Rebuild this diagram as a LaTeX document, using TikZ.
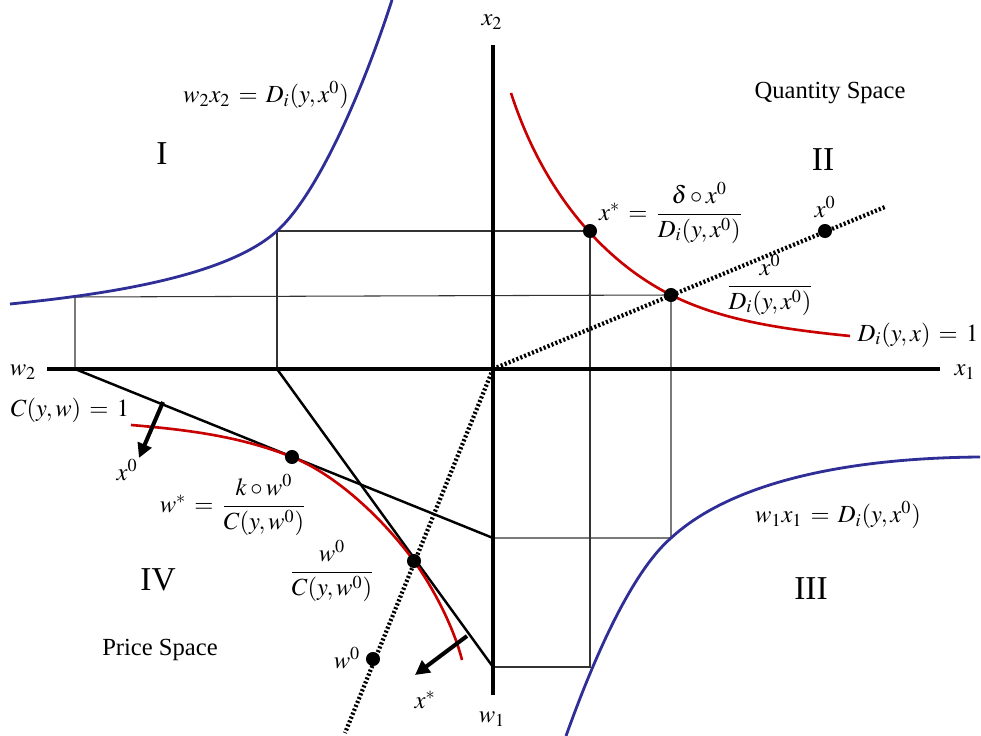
\documentclass[tikz,border=0pt]{standalone}
\usepackage{amsmath}
\usepackage{mathptmx}
\usepackage{fontspec}
\setmainfont{Liberation Serif}
\usetikzlibrary{arrows.meta}
\definecolor{isoblue}{RGB}{46,46,150}
\definecolor{isored}{RGB}{200,0,0}
\tikzset{
  axs/.style={line width=1.8pt},
  grd/.style={line width=0.6pt, black!80},
  tng/.style={line width=1.4pt},
  dual/.style={line width=1.6pt, isoblue},
  iso/.style={line width=1.5pt, isored},
  ray/.style={line width=2.4pt, dash pattern=on 1.2pt off 1.2pt},
  nrm/.style={-{Triangle[length=2.9mm,width=2.9mm]}, line width=2.3pt},
  lbl/.style={font=\fontsize{14}{16}\selectfont, inner sep=1pt},
  quad/.style={font=\fontsize{19}{21}\selectfont, inner sep=1pt},
}

\begin{document}
\begin{tikzpicture}[x=0.02cm,y=-0.02cm]
  \useasboundingbox (0,0) rectangle (981,736);
  % key points
  \coordinate (O) at (493,369);
  \coordinate (xs) at (590,231);
  \coordinate (xr) at (671,295);
  \coordinate (x0) at (825,231);
  \coordinate (ws) at (292,457);
  \coordinate (wr) at (414,561);
  \coordinate (w0) at (373,659);
  \coordinate (A2) at (75,369);
  \coordinate (B2) at (277,369);
  \coordinate (A1) at (493,538);
  \coordinate (B1) at (493,667);
  \coordinate (Ahi) at (75,297);
  \coordinate (Bhi) at (277,231);
  \coordinate (Alo) at (671,538);
  \coordinate (Blo) at (590,667);
  \coordinate (rayII) at (885,207);
  \coordinate (rayIV) at (345,733);

  % thin projection lines
  \draw[grd] (A2) -- (Ahi) -- (xr) -- (Alo) -- (A1);
  \draw[grd] (B2) -- (Bhi) -- (xs) -- (Blo) -- (B1);

  % axes
  \draw[axs] (47,369) -- (940,369);
  \draw[axs] (493,45) -- (493,695);
  \node[lbl] (lw2) at (23,372) {$w_2$};
  \node[lbl] (lx1) at (965,372) {$x_1$};
  \node[lbl] (lx2) at (492,22) {$x_2$};
  \node[lbl] (lw1) at (492,719) {$w_1$};

  % budget lines
  \draw[tng] (A2) -- (A1);
  \draw[tng] (B2) -- (B1);

  % rays through the origin
  \draw[ray] (O) -- (rayII);
  \draw[ray] (O) -- (rayIV);

  % isoquant and cost curve
  \draw[iso] (511,93) .. controls (546,201) and (611,265) .. (xr)
    .. controls (721,320) and (780,329) .. (850,336);
  \draw[iso] (131,425) .. controls (191,430) and (242,437) .. (ws)
    .. controls (337,475) and (384,520) .. (wr)
    .. controls (434,589) and (454,628) .. (462,660);

  % mapping curves
  \draw[dual] (10,304) .. controls (110,294) and (227,276) .. (Bhi)
    .. controls (317,195) and (362,93) .. (392,0);
  \draw[dual] (566,736) .. controls (596,652) and (633,571) .. (Alo)
    .. controls (733,481) and (850,458) .. (980,457);

  % normals
  \draw[nrm] (163,402) -- (139,458);
  \draw[nrm] (467,636) -- (415,675);

  % dots
  \foreach \p in {xs,xr,x0,ws,wr,w0}
    \fill (\p) circle (4pt);

  % labels
  \node[quad] (qI) at (162,154) {I};
  \node[quad] (qII) at (823,160) {II};
  \node[quad] (qIII) at (811,589) {III};
  \node[quad] (qIV) at (158,580) {IV};
  \node[lbl] (qsp) at (830,93) {Quantity Space};
  \node[lbl] (psp) at (160,650) {Price Space};
  \node[lbl] (eqI) at (266,95) {$w_2x_2\,=\,D_i(y,x^0)$};
  \node[lbl] (eqIII) at (838,515) {$w_1x_1\,=\,D_i(y,x^0)$};
  \node[lbl] (lxs) at (671,213) {$x^*\,=\,\dfrac{\delta\circ x^0}{D_i(y,x^0)}$};
  \node[lbl] (lx0) at (825,207) {$x^0$};
  \node[lbl] (lxr) at (770,285) {$\dfrac{x^0}{D_i(y,x^0)}$};
  \node[lbl] (ldi) at (918,335) {$D_i(y,x)\,=\,1$};
  \node[lbl] (lc) at (70,410) {$C(y,w)\,=\,1$};
  \node[lbl] (lnx0) at (127,470) {$x^0$};
  \node[lbl] (lws) at (233,505) {$w^*\,=\,\dfrac{k\circ w^0}{C(y,w^0)}$};
  \node[lbl] (lwr) at (332,571) {$\dfrac{w^0}{C(y,w^0)}$};
  \node[lbl] (lw0) at (347,658) {$w^0$};
  \node[lbl] (lnxs) at (425,700) {$x^*$};
\end{tikzpicture}
\end{document}
